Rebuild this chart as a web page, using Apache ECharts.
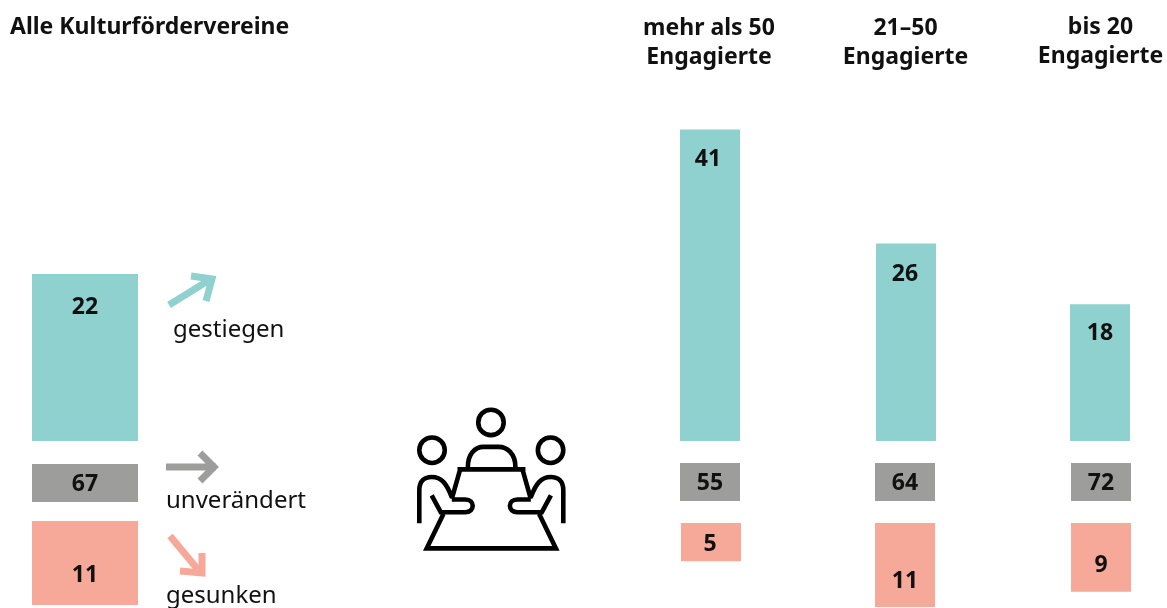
<!DOCTYPE html>
<html>
<head>
<meta charset="utf-8">
<script src="https://cdn.jsdelivr.net/npm/echarts@6/dist/echarts.min.js"></script>
<style>
  html, body { margin: 0; padding: 0; background: #fff; }
  #chart { width: 1167px; height: 608px; }
</style>
</head>
<body>
<div id="chart"></div>
<script>
// Werte
const groups = ["Alle Kulturfördervereine", "mehr als 50\nEngagierte", "21–50\nEngagierte", "bis 20\nEngagierte"];
const gestiegen = [22, 41, 26, 18];
const unveraendert = [67, 55, 64, 72];
const gesunken = [11, 5, 11, 9];
const legendNames = ["gestiegen", "unverändert", "gesunken"];

const TEXT = "#111111";
const FONT = '"Noto Sans", sans-serif';
const widths = [106, 60, 60, 60];

// one grid per bar, the rows only differ in placement and scale
const rows = [
  {
    name: legendNames[0], values: gestiegen, color: "#8FD1CE",
    lefts: [32, 680, 876, 1070], tops: [122, 122, 122, 122], height: 319, max: () => 42,
    position: "insideTop", labelDx: [0, -2, -1, 0], labelDy: [22, 18, 19, 18],
  },
  {
    name: legendNames[1], values: unveraendert, color: "#9D9D9C",
    // grey bars all have the same height in the original, whatever the value
    lefts: [32, 680, 875, 1071], tops: [464, 463, 463, 463], height: 38, max: (v) => v,
    position: "inside", labelDx: [0, 0, 0, 0], labelDy: [1, 1, 1, 1],
  },
  {
    name: legendNames[2], values: gesunken, color: "#F6A899", inverse: true,
    lefts: [32, 681, 875, 1071], tops: [521, 523, 523, 523], height: 84, max: () => 11,
    position: "inside", labelDx: [0, -1, 0, 0], labelDy: [12, 2, 16, 8],
  },
];

const grid = [], xAxis = [], yAxis = [], series = [];
rows.forEach((row) => {
  row.values.forEach((v, i) => {
    const idx = grid.length;
    grid.push({ left: row.lefts[i], top: row.tops[i], width: widths[i], height: row.height });
    xAxis.push({ type: "category", gridIndex: idx, data: [groups[i]], show: false });
    yAxis.push({ type: "value", gridIndex: idx, min: 0, max: row.max(v), inverse: !!row.inverse, show: false });
    series.push({
      type: "bar",
      name: row.name,
      xAxisIndex: idx,
      yAxisIndex: idx,
      data: [v],
      barWidth: "100%",
      silent: true,
      itemStyle: { color: row.color },
      label: {
        show: true,
        position: row.position,
        distance: 0,
        offset: [row.labelDx[i], row.labelDy[i]],
        color: TEXT,
        fontFamily: FONT,
        fontWeight: "bold",
        fontSize: 23,
      },
    });
  });
});

function text(str, x, y, bold, align) {
  return {
    type: "text",
    x: x,
    y: y,
    silent: true,
    style: {
      text: str,
      fill: TEXT,
      font: bold ? "bold 23px " + FONT : "24px " + FONT,
      textAlign: align || "left",
      textVerticalAlign: "middle",
      lineHeight: 29,
    },
  };
}

function arrow(color, shaft, head) {
  const style = { stroke: color, lineWidth: 7, fill: null, lineJoin: "miter", lineCap: "butt" };
  return [
    { type: "polyline", silent: true, shape: { points: shaft }, style: style },
    { type: "polyline", silent: true, shape: { points: head }, style: style },
  ];
}

// Tisch mit drei Personen
const iconPath = [
  "M234 82a38 38 0 1 0 76 0a38 38 0 1 0 -76 0",
  "M58 165a38 38 0 1 0 76 0a38 38 0 1 0 -76 0",
  "M412 165a38 38 0 1 0 76 0a38 38 0 1 0 -76 0",
  "M203 215C203 175 225 155 250 155L295 155C320 155 345 175 345 215",
  "M172 222L375 222M180 222L155 310M366 222L391 310",
  "M130 355L80 458L466 458L416 355",
  "M58 383L58 285C58 255 75 245 95 245C125 245 140 265 155 305",
  "M95 300L122 350L195 350C225 350 225 312 195 312L155 312",
  "M488 383L488 285C488 255 471 245 451 245C421 245 406 265 391 305",
  "M451 300L424 350L351 350C321 350 321 312 351 312L391 312",
].join("");

series.push({
  type: "custom",
  coordinateSystem: "none",
  silent: true,
  data: [0],
  renderItem: () => ({
    type: "path",
    shape: { pathData: iconPath, layout: "cover", x: 419.3, y: 409.7, width: 144, height: 138.7 },
    style: { stroke: "#000", lineWidth: 4.6, fill: null },
  }),
});

const graphic = [
  text(groups[0], 10, 27, true),
  text(groups[1], 709, 43, true, "center"),
  text(groups[2], 905.5, 43, true, "center"),
  text(groups[3], 1100.5, 42, true, "center"),
  text(legendNames[0], 173, 330),
  text(legendNames[1], 166, 501),
  text(legendNames[2], 166, 596),
  ...arrow("#8FD1CE", [[169, 305], [211, 279]], [[191, 276], [212, 279], [206, 301]]),
  ...arrow("#9D9D9C", [[166, 467], [216, 467]], [[200, 453], [214, 467], [200, 481]]),
  ...arrow("#F6A899", [[170, 536], [200, 572]], [[202, 553], [202, 573], [180, 571]]),
];

const myChart = echarts.init(document.getElementById("chart"), null, { renderer: "canvas" });
myChart.setOption({
  animation: false,
  backgroundColor: "#fff",
  grid: grid,
  xAxis: xAxis,
  yAxis: yAxis,
  series: series,
  graphic: graphic,
});
</script>
</body>
</html>
